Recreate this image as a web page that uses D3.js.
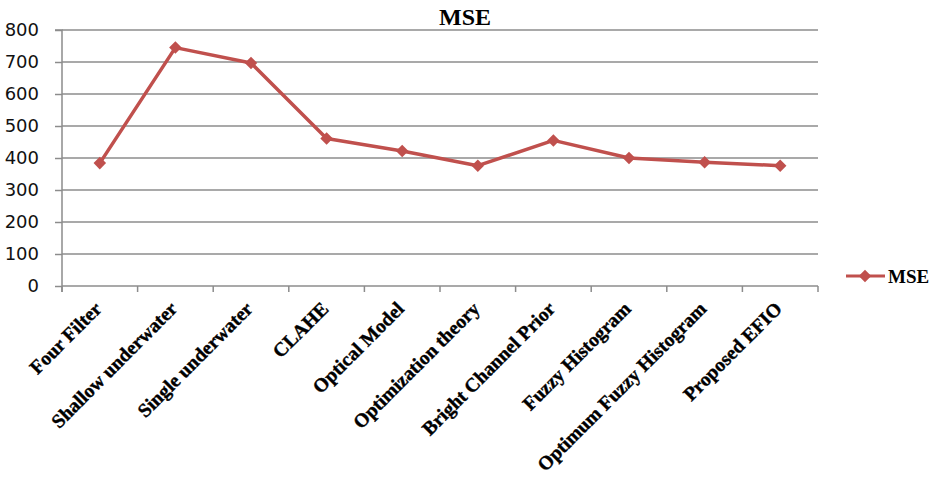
<!DOCTYPE html>
<html><head><meta charset="utf-8">
<script src="https://cdn.jsdelivr.net/npm/d3@7"></script>
<style>body{margin:0;background:#fff}svg{display:block}</style>
</head><body>
<script>
const categories = ["Four Filter","Shallow underwater","Single underwater","CLAHE","Optical Model","Optimization theory","Bright Channel  Prior","Fuzzy Histogram","Optimum Fuzzy Histogram","Proposed EFIO"];
const mseValues = [384, 745, 697, 461, 422, 376, 455, 400, 387, 376];
const yTicks = [0,100,200,300,400,500,600,700,800];
const seriesName = "MSE";

const W = 935, H = 479;
const m = {left:62, right:818, top:30, bottom:286};
const red = "#C0504D", grid = "#8c8c8c";

const svg = d3.select("body").append("svg").attr("width", W).attr("height", H);

const x = d3.scaleBand().domain(categories).range([m.left, m.right]).padding(0);
const y = d3.scaleLinear().domain([0, 800]).range([m.bottom, m.top]);

// gridlines
svg.append("g").selectAll("line").data(yTicks.filter(d => d > 0)).join("line")
  .attr("x1", m.left).attr("x2", m.right)
  .attr("y1", d => y(d)).attr("y2", d => y(d))
  .attr("stroke", grid).attr("stroke-width", 1.5);

// y axis
const yAxis = svg.append("g").attr("transform", `translate(${m.left},0)`)
  .call(d3.axisLeft(y).tickValues(yTicks).tickSize(7).tickPadding(16).tickFormat(d3.format("d")));
yAxis.select(".domain").attr("stroke", grid).attr("stroke-width", 1.5).attr("d", `M-7,${m.top}H0V${m.bottom + 6}`);
yAxis.selectAll(".tick line").attr("stroke", grid).attr("stroke-width", 1.5);
yAxis.selectAll(".tick text").attr("font-family", "DejaVu Sans, sans-serif").attr("font-size", 18).attr("fill", "#111");

// x axis
const bounds = d3.range(categories.length + 1).map(i => m.left + i * x.step());
svg.append("line").attr("x1", m.left).attr("x2", m.right).attr("y1", m.bottom).attr("y2", m.bottom)
  .attr("stroke", grid).attr("stroke-width", 1.5);
svg.append("g").selectAll("line").data(bounds).join("line")
  .attr("x1", d => d).attr("x2", d => d).attr("y1", m.bottom).attr("y2", m.bottom + 6)
  .attr("stroke", grid).attr("stroke-width", 1.5);

svg.append("g").selectAll("text").data(categories).join("text")
  .attr("transform", d => `translate(${x(d) + x.bandwidth() / 2 + 3},${m.bottom + 24}) rotate(-45)`)
  .attr("text-anchor", "end")
  .attr("font-family", "Liberation Serif, serif").attr("font-weight", "bold").attr("font-size", 19.5)
  .attr("fill", "#000").attr("stroke", "#000").attr("stroke-width", 0.4)
  .text(d => d);

// line
const pts = categories.map((c, i) => [x(c) + x.bandwidth() / 2, y(mseValues[i])]);
svg.append("path").attr("d", d3.line()(pts)).attr("fill", "none")
  .attr("stroke", red).attr("stroke-width", 3.5).attr("stroke-linejoin", "round");
const diamond = d3.symbol().type(d3.symbolDiamond2).size(100);
svg.append("g").selectAll("path").data(pts).join("path")
  .attr("transform", d => `translate(${d[0]},${d[1]})`)
  .attr("d", diamond).attr("fill", red);

// title
svg.append("text").attr("x", 465).attr("y", 25).attr("text-anchor", "middle")
  .attr("font-family", "Liberation Serif, serif").attr("font-weight", "bold").attr("font-size", 24)
  .text(seriesName);

// legend
const lg = svg.append("g");
lg.append("line").attr("x1", 846).attr("x2", 885).attr("y1", 276).attr("y2", 276)
  .attr("stroke", red).attr("stroke-width", 3);
lg.append("path").attr("transform", "translate(865,276)").attr("d", diamond).attr("fill", red);
lg.append("text").attr("x", 888).attr("y", 283).attr("font-family", "Liberation Serif, serif")
  .attr("font-weight", "bold").attr("font-size", 19).text(seriesName);
</script>
</body></html>
